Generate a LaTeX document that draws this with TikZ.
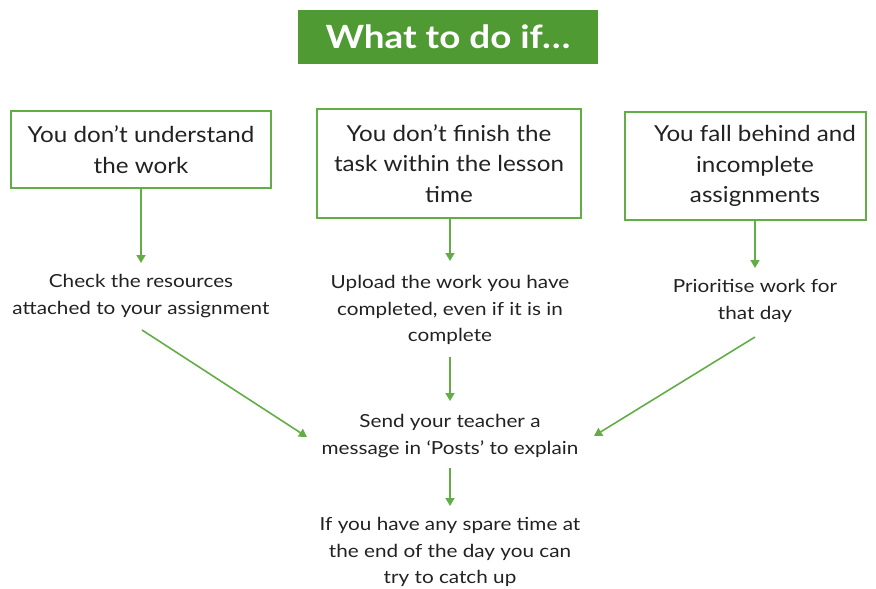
\documentclass[tikz,border=0pt]{standalone}
\usepackage{fontspec}
\setmainfont{Lato}
\newfontfamily\boxf{Lato}[FakeStretch=1.1]
\newfontfamily\lblf{Lato}[FakeStretch=1.15]
\newfontfamily\titlef{Lato}[FakeStretch=1.15]
\usetikzlibrary{arrows.meta}
\definecolor{tgreen}{HTML}{4F9A33}
\definecolor{lgreen}{HTML}{62AD45}
\definecolor{txt}{HTML}{222222}
\begin{document}
\begin{tikzpicture}[x=1pt,y=-1pt,
  box/.style={draw=lgreen,line width=1.8pt,minimum width=#1,align=center,inner sep=0pt,text=txt,font=\boxf\fontsize{22}{30.5}\selectfont},
  boxtext/.style={align=center,inner sep=0pt,text=txt,font=\boxf\fontsize{22}{30.5}\selectfont},
  lbl/.style={align=center,text=txt,font=\lblf\fontsize{18}{26.5}\selectfont,inner sep=0pt},
  arr/.style={draw=lgreen,line width=1.6pt,-{Triangle[length=8pt,width=9pt]}}]
\useasboundingbox (0,0) rectangle (876,589);
\node[fill=tgreen,minimum width=300pt,minimum height=54pt,inner sep=0pt,text=white,font=\titlef\fontsize{32}{36}\bfseries\selectfont] (title) at (448,37) {What to do if…};
\node[box=260pt,minimum height=77pt] (b1) at (141,149.5) {You don’t understand\\the work};
\node[box=264pt,minimum height=109pt] (b2) at (449,163.5) {You don’t finish the\\task within the lesson\\time};
\node[box=241pt,minimum height=108pt] (b3) at (745.5,166) {};
\node[boxtext] (b3t) at (755,166) {You fall behind and\\incomplete\\assignments};
\node[lbl] (l1) at (141,296) {Check the resources\\attached to your assignment};
\node[lbl] (l2) at (450,310) {Upload the work you have\\completed, even if it is in\\complete};
\node[lbl] (l3) at (755,301) {Prioritise work for\\that day};
\node[lbl] (s) at (450,436) {Send your teacher a\\message in ‘Posts’ to explain};
\node[lbl] (f) at (450,552) {If you have any spare time at\\the end of the day you can\\try to catch up};
\coordinate (a1e) at (141,263);
\coordinate (a2s) at (450,218); \coordinate (a2e) at (450,261);
\coordinate (a3s) at (755,220); \coordinate (a3e) at (755,268);
\draw[arr] (b1.south) -- (a1e);
\draw[arr] (b2.south -| a2s) -- (a2e);
\draw[arr] (b3.south -| a3s) -- (a3e);
\coordinate (d1s) at (142,330); \coordinate (d1e) at (307,437);
\coordinate (d2s) at (755,337); \coordinate (d2e) at (594,436);
\draw[arr] (d1s) -- (d1e);
\draw[arr] (d2s) -- (d2e);
\coordinate (c1s) at (450,357); \coordinate (c1e) at (450,401);
\coordinate (c2s) at (450,468); \coordinate (c2e) at (450,506);
\draw[arr] (c1s) -- (c1e);
\draw[arr] (c2s) -- (c2e);
\end{tikzpicture}
\end{document}
